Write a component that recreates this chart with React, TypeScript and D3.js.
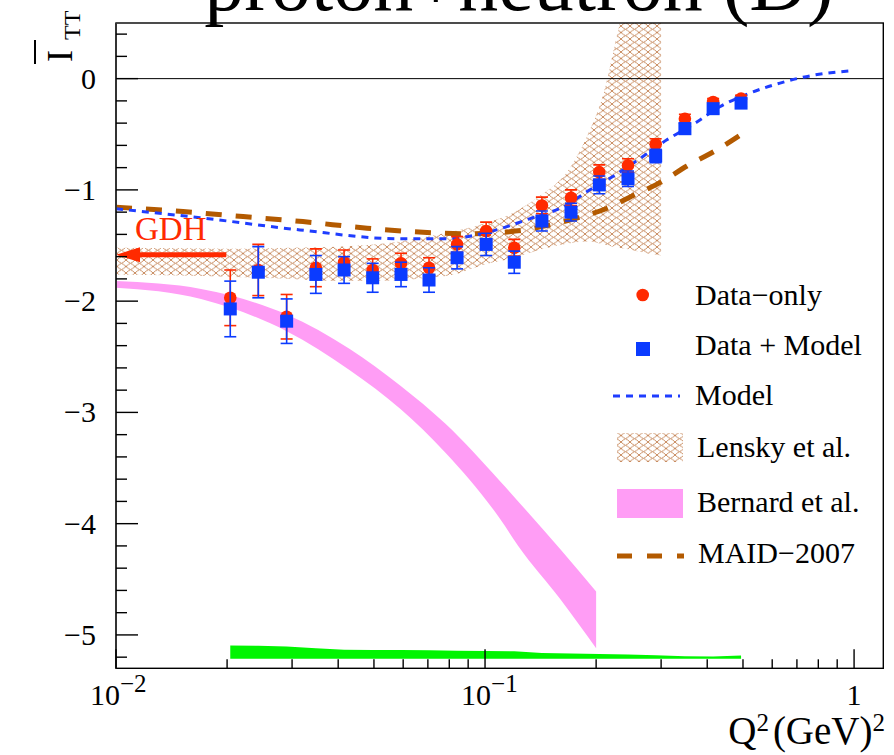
import React from 'react';
import * as d3 from 'd3';

// Measured points: Q^2 in GeV^2
const q2 = [0.0204, 0.0243, 0.029, 0.0348, 0.0415, 0.0496, 0.0592, 0.0705, 0.084, 0.1007, 0.12, 0.1426, 0.171, 0.204, 0.244, 0.29, 0.348, 0.415, 0.494];
const dataOnly = [-1.97, -1.72, -2.14, -1.70, -1.65, -1.72, -1.66, -1.70, -1.49, -1.37, -1.52, -1.14, -1.07, -0.84, -0.78, -0.59, -0.36, -0.21, -0.18];
const dataOnlyErr = [0.25, 0.23, 0.20, 0.17, 0.11, 0.10, 0.09, 0.09, 0.07, 0.08, 0.075, 0.075, 0.07, 0.065, 0.06, 0.05, 0.04, 0.03, 0.03];
const dataModel = [-2.07, -1.74, -2.18, -1.76, -1.72, -1.79, -1.76, -1.81, -1.61, -1.49, -1.65, -1.28, -1.20, -0.955, -0.90, -0.695, -0.45, -0.27, -0.22];
const dataModelErr = [0.25, 0.23, 0.20, 0.17, 0.12, 0.13, 0.11, 0.11, 0.10, 0.10, 0.10, 0.09, 0.08, 0.08, 0.07, 0.06, 0.05, 0.04, 0.03];

// Systematic uncertainty band (top edge per point, common base)
const sysTop = [-5.095, -5.098, -5.103, -5.12, -5.133, -5.136, -5.136, -5.137, -5.143, -5.145, -5.146, -5.163, -5.168, -5.172, -5.176, -5.182, -5.192, -5.195, -5.184];
const sysBase = -5.215;

// Model curve
const modelQ2 = [0.01, 0.0169, 0.0315, 0.0588, 0.0783, 0.103, 0.132, 0.167, 0.189, 0.222, 0.252, 0.311, 0.375, 0.434, 0.522, 0.63, 0.774, 0.975];
const modelVal = [-1.17, -1.25, -1.36, -1.44, -1.44, -1.375, -1.26, -1.135, -1.015, -0.88, -0.76, -0.55, -0.39, -0.25, -0.13, -0.04, 0.03, 0.07];

// MAID-2007
const maidQ2 = [0.01, 0.0152, 0.0221, 0.0321, 0.0479, 0.0697, 0.091, 0.1228, 0.15, 0.181, 0.2143, 0.252, 0.298, 0.3525, 0.425, 0.49];
const maidVal = [-1.155, -1.195, -1.24, -1.285, -1.344, -1.383, -1.395, -1.368, -1.315, -1.245, -1.165, -1.05, -0.935, -0.785, -0.64, -0.51];

// Lensky et al. band
const lenskyQ2 = [0.01, 0.015, 0.02, 0.03, 0.04, 0.05, 0.06, 0.07, 0.08, 0.1, 0.12, 0.14, 0.17, 0.19, 0.21, 0.23, 0.25, 0.27, 0.3];
const lenskyHi = [-1.52, -1.525, -1.53, -1.52, -1.51, -1.49, -1.46, -1.42, -1.38, -1.30, -1.20, -1.06, -0.80, -0.50, -0.12, 0.45, 0.9, 1.3, 1.7];
const lenskyLo = [-1.76, -1.77, -1.78, -1.80, -1.82, -1.82, -1.81, -1.79, -1.77, -1.67, -1.61, -1.54, -1.48, -1.465, -1.49, -1.52, -1.54, -1.565, -1.59];

// Bernard et al. band
const bernardQ2 = [0.01, 0.017, 0.0205, 0.029, 0.043, 0.059, 0.078, 0.11, 0.123, 0.16, 0.2];
const bernardHi = [-1.82, -1.89, -1.95, -2.12, -2.43, -2.76, -3.10, -3.62, -3.80, -4.23, -4.61];
const bernardLo = [-1.88, -1.98, -2.06, -2.27, -2.62, -2.97, -3.36, -3.96, -4.20, -4.68, -5.12];

// GDH sum rule value at the real photon point
const gdhValue = -1.584;
const gdhArrowFromQ2 = 0.0199;

const yMajorTicks = [-5, -4, -3, -2, -1, 0];
const yTickLabels = ['\u22125', '\u22124', '\u22123', '\u22122', '\u22121', '0'];
const xMajorTicks = [0.01, 0.1, 1];
const legendLabels = ['Data\u2212only', 'Data + Model', 'Model', 'Lensky et al.', 'Bernard et al.', 'MAID\u22122007'];

const W = 894;
const H = 755;
const frame = { left: 116, right: 883.3, top: 23, bottom: 668.3 };

const RED = '#ff2a00';
const BLUE = '#0b3bff';
const MODEL_BLUE = '#1f3dff';
const BROWN = '#b35a00';
const PINK = '#ff9df5';
const GREEN = '#00f500';
const HATCH = '#c2804f';
const SERIF = "'Liberation Serif', 'Times New Roman', serif";

export default function App() {
  const x = d3.scaleLog().domain([0.01, 1.2]).range([frame.left, frame.right]);
  const y = d3.scaleLinear().domain([-5.3, 0.5]).range([frame.bottom, frame.top]);

  const band = (xs: number[], lo: number[], hi: number[], curve: any) =>
    d3.area<number>()
      .x((d) => x(d))
      .y0((_, i) => y(lo[i]))
      .y1((_, i) => y(hi[i]))
      .curve(curve)(xs) as string;

  const lensky = band(lenskyQ2, lenskyLo, lenskyHi, d3.curveMonotoneX);
  const bernard = band(bernardQ2, bernardLo, bernardHi, d3.curveMonotoneX);
  const sys = band(q2, q2.map(() => sysBase), sysTop, d3.curveLinear);

  const line = (xs: number[], ys: number[]) =>
    d3.line<number>().x((d) => x(d)).y((_, i) => y(ys[i])).curve(d3.curveMonotoneX)(xs) as string;

  const model = line(modelQ2, modelVal);
  const maid = line(maidQ2, maidVal);

  const yMinor = d3.range(-26, 3).map((i) => i * 0.2).filter((v) => Math.abs(v - Math.round(v)) > 1e-6);
  const xMinor: number[] = [];
  [0.01, 0.1, 1].forEach((dec) => {
    for (let k = 2; k <= 9; k++) {
      const v = dec * k;
      if (v <= 1.2) xMinor.push(v);
    }
  });

  const capW = 6;
  const errBars = (vals: number[], errs: number[], color: string) =>
    q2.map((q, i) => {
      const cx = x(q);
      const t = y(vals[i] + errs[i]);
      const b = y(vals[i] - errs[i]);
      return (
        <g key={`${color}-${i}`} stroke={color} strokeWidth={1.6}>
          <line x1={cx} x2={cx} y1={t} y2={b} />
          <line x1={cx - capW} x2={cx + capW} y1={t} y2={t} />
          <line x1={cx - capW} x2={cx + capW} y1={b} y2={b} />
        </g>
      );
    });

  const gy = y(gdhValue);
  const legendX = 695;

  return (
    <svg width={W} height={H} style={{ position: 'absolute', left: 0, top: 0, background: '#fff' }} fontFamily={SERIF}>
      <defs>
        <clipPath id="plotClip">
          <rect x={frame.left} y={frame.top} width={frame.right - frame.left} height={frame.bottom - frame.top} />
        </clipPath>
        <pattern id="fishnet" width={9} height={6.5} patternUnits="userSpaceOnUse">
          <path d="M0,0 Q2.25,2.2 4.5,3.25 Q6.75,2.2 9,0 M0,6.5 Q2.25,4.3 4.5,3.25 Q6.75,4.3 9,6.5" stroke={HATCH} strokeWidth={0.9} fill="none" />
        </pattern>
      </defs>
      <rect x={0} y={0} width={W} height={H} fill="#fff" />

      {/* title, partly above the canvas */}
      <text x={519} y={10} textAnchor="middle" fontSize={80} fill="#000">proton+neutron (D)</text>

      <g clipPath="url(#plotClip)">
        <path d={lensky} fill="url(#fishnet)" />
        <path d={bernard} fill={PINK} />
        <path d={sys} fill={GREEN} />
        <line x1={frame.left} x2={frame.right} y1={y(0)} y2={y(0)} stroke="#000" strokeWidth={1} />
        <path d={maid} fill="none" stroke={BROWN} strokeWidth={5} strokeDasharray="16 14" />
        <path d={model} fill="none" stroke={MODEL_BLUE} strokeWidth={3} strokeDasharray="7 6" />

        {errBars(dataOnly, dataOnlyErr, RED)}
        {q2.map((q, i) => (
          <circle key={`c${i}`} cx={x(q)} cy={y(dataOnly[i])} r={6.3} fill={RED} />
        ))}
        {errBars(dataModel, dataModelErr, BLUE)}
        {q2.map((q, i) => (
          <rect key={`s${i}`} x={x(q) - 6.5} y={y(dataModel[i]) - 6.5} width={13} height={13} fill={BLUE} />
        ))}

        {/* GDH arrow */}
        <line x1={x(gdhArrowFromQ2)} x2={frame.left + 20} y1={gy} y2={gy} stroke={RED} strokeWidth={5} />
        <polygon points={`${frame.left},${gy} ${frame.left + 24},${gy - 7.5} ${frame.left + 24},${gy + 7.5}`} fill={RED} />
      </g>
      <text x={frame.left + 19} y={gy - 15} fontSize={33} fill={RED}>GDH</text>

      {/* frame */}
      <rect x={frame.left} y={frame.top} width={frame.right - frame.left} height={frame.bottom - frame.top} fill="none" stroke="#000" strokeWidth={1.4} />
      <line x1={frame.left} x2={frame.left} y1={frame.top} y2={frame.bottom} stroke="#333" strokeWidth={2} />

      {/* y ticks */}
      {yMajorTicks.map((v) => (
        <line key={`ym${v}`} x1={frame.left} x2={frame.left + 22} y1={y(v)} y2={y(v)} stroke="#000" strokeWidth={1.4} />
      ))}
      {yMinor.map((v) => (
        <line key={`yn${v}`} x1={frame.left} x2={frame.left + 11} y1={y(v)} y2={y(v)} stroke="#000" strokeWidth={1.4} />
      ))}
      {yMajorTicks.map((v, i) => (
        <text key={`yl${v}`} x={96} y={y(v) + 10} textAnchor="end" fontSize={30} fill="#000">{yTickLabels[i]}</text>
      ))}

      {/* x ticks */}
      {xMajorTicks.map((v) => (
        <line key={`xm${v}`} x1={x(v)} x2={x(v)} y1={frame.bottom} y2={frame.bottom - 19} stroke="#000" strokeWidth={1.4} />
      ))}
      {xMinor.map((v) => (
        <line key={`xn${v}`} x1={x(v)} x2={x(v)} y1={frame.bottom} y2={frame.bottom - 9} stroke="#000" strokeWidth={1.4} />
      ))}
      <text x={x(0.01) + 4} y={705} textAnchor="end" fontSize={30}>10</text>
      <text x={x(0.01) + 4} y={692} fontSize={25}>{'\u22122'}</text>
      <text x={x(0.1) + 6} y={705} textAnchor="end" fontSize={30}>10</text>
      <text x={x(0.1) + 6} y={692} fontSize={25}>{'\u22121'}</text>
      <text x={x(1)} y={705} textAnchor="middle" fontSize={30}>1</text>

      {/* x title */}
      <text x={885} y={744} textAnchor="end" fontSize={39}>
        Q<tspan fontSize={25} dy={-13}>2</tspan>
        <tspan dy={13} dx={4}>(GeV)</tspan>
        <tspan fontSize={25} dy={-13}>2</tspan>
      </text>

      {/* y title */}
      <g transform="translate(72,62) rotate(-90)">
        <text x={0} y={0} fontSize={36}>I</text>
        <text x={22} y={8} fontSize={24}>TT</text>
        <line x1={-2} x2={22} y1={-37} y2={-37} stroke="#000" strokeWidth={2} />
      </g>

      {/* legend */}
      <g fontSize={30} fill="#000">
        <circle cx={642.7} cy={295} r={6.3} fill={RED} />
        <text x={legendX} y={305}>{legendLabels[0]}</text>
        <rect x={636} y={342} width={14} height={14} fill={BLUE} />
        <text x={legendX} y={355}>{legendLabels[1]}</text>
        <line x1={613} x2={680} y1={396} y2={396} stroke={MODEL_BLUE} strokeWidth={3} strokeDasharray="7 6" />
        <text x={legendX} y={405}>{legendLabels[2]}</text>
        <rect x={617} y={433} width={66} height={29} fill="url(#fishnet)" />
        <text x={697} y={457}>{legendLabels[3]}</text>
        <rect x={617} y={489} width={66} height={29} fill={PINK} />
        <text x={697} y={512}>{legendLabels[4]}</text>
        <line x1={617} x2={684} y1={556} y2={556} stroke={BROWN} strokeWidth={5} strokeDasharray="15 15" />
        <text x={698} y={563}>{legendLabels[5]}</text>
      </g>
    </svg>
  );
}
